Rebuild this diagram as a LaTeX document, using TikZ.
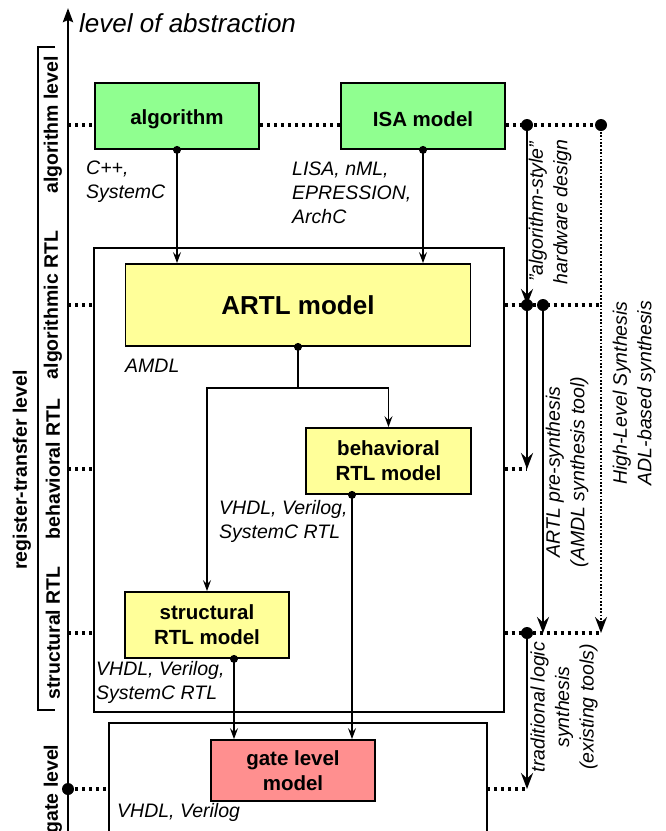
\documentclass[tikz,border=0pt]{standalone}
\usepackage{fontspec}
\setmainfont{Liberation Sans}
\usetikzlibrary{arrows.meta}
\definecolor{boxgreen}{RGB}{144,255,144}
\definecolor{boxyellow}{RGB}{255,255,153}
\definecolor{boxred}{RGB}{255,143,143}
\begin{document}
\begin{tikzpicture}[x=1pt,y=-1pt,
 model/.style={draw,line width=1.8pt,inner sep=0pt,align=center,font=\bfseries\fontsize{20.5}{25}\selectfont},
 encl/.style={draw,line width=1.6pt,inner sep=0pt,anchor=north west},
 lang/.style={inner sep=0pt,anchor=west,align=left,font=\itshape\fontsize{19.5}{24}\selectfont},
 lvl/.style={inner sep=0pt,rotate=90,font=\bfseries\fontsize{19.5}{24}\selectfont},
 side/.style={inner sep=0pt,rotate=90,align=center,font=\itshape\fontsize{19.5}{24.5}\selectfont},
 flow/.style={line width=1.6pt,-{Stealth[length=11pt,width=8pt,inset=4pt]}},
 syn/.style={line width=2.8pt,-{Stealth[length=16pt,width=12pt,inset=5.5pt]}},
 lvldot/.style={line width=3.2pt,dash pattern=on 3.2pt off 3.8pt},
 thindot/.style={line width=1.8pt,dash pattern=on 1.8pt off 1.6pt},
 smalldot/.style={fill,circle,inner sep=0pt,minimum size=8pt},
 bigdot/.style={fill,circle,inner sep=0pt,minimum size=12pt},
 ]
\useasboundingbox (0,0) rectangle (665,831);

% enclosures
\node[encl,minimum width=410pt,minimum height=464pt] (big) at (93,247) {};
\coordinate (ge1) at (109,835);
\coordinate (ge2) at (109,723);
\coordinate (ge3) at (487,723);
\coordinate (ge4) at (487,835);
\draw[line width=1.6pt] (ge1) -- (ge2) -- (ge3) -- (ge4);

% level coordinates
\coordinate (axA) at (68,125);
\coordinate (axR) at (68,305);
\coordinate (axB) at (68,469);
\coordinate (axS) at (68,633);
\coordinate (axG) at (68,789);
\coordinate (axBot) at (68,831);
\coordinate (axTop) at (68,8);

\coordinate (sA) at (527,125);
\coordinate (rA) at (601,125);
\coordinate (sR) at (527,305);
\coordinate (pR) at (543,305);
\coordinate (rR) at (601,305);
\coordinate (sB) at (527,469);
\coordinate (sS) at (527,633);
\coordinate (pS) at (543,633);
\coordinate (rS) at (601,633);
\coordinate (sG) at (527,789);

% model boxes
\node[model,fill=boxgreen,minimum width=164pt,minimum height=66pt] (alg) at (177,116) {\raisebox{-3pt}[\height][\depth]{algorithm}};
\node[model,fill=boxgreen,minimum width=164pt,minimum height=66pt] (isa) at (423,116) {\raisebox{-3pt}[\height][\depth]{ISA model}};
\node[model,fill=boxyellow,minimum width=345pt,minimum height=82pt,font=\bfseries\fontsize{26}{30}\selectfont] (artl) at (298,305) {ARTL model};
\node[model,fill=boxyellow,minimum width=165pt,minimum height=66pt] (beh) at (388.5,461) {behavioral\\RTL model};
\node[model,fill=boxyellow,minimum width=164pt,minimum height=66pt] (struct) at (207,625) {structural\\RTL model};
\node[model,fill=boxred,minimum width=164pt,minimum height=61pt] (gate) at (293,770.5) {gate level\\model};

% dotted level lines
\draw[lvldot] (axA) -- (alg.west |- axA);
\draw[lvldot] (alg.east |- axA) -- (isa.west |- axA);
\draw[lvldot] (isa.east |- axA) -- (rA);
\draw[lvldot] (axR) -- (axR -| big.west);
\draw[lvldot] (axR -| big.east) -- (rR);
\draw[lvldot] (axB) -- (axB -| big.west);
\draw[lvldot] (axB -| big.east) -- (sB);
\draw[lvldot] (axS) -- (axS -| big.west);
\draw[lvldot] (axS -| big.east) -- (rS);
\draw[lvldot] (axG) -- (axG -| ge2);
\draw[lvldot] (axG -| ge3) -- (sG);

% main axis
\draw[line width=2.8pt,-{Stealth[length=14pt,width=10pt,inset=2pt]}] (axBot) -- (axTop);
\node[bigdot] (dG) at (axG) {};
\node[anchor=west,inner sep=0pt,font=\itshape\fontsize{26}{30}\selectfont] (loa) at (79,23) {level of abstraction};

% bracket
\coordinate (br1) at (55,47);
\coordinate (br2) at (38,47);
\coordinate (br3) at (38,710);
\coordinate (br4) at (55,710);
\draw[line width=1.6pt] (br1) -- (br2) -- (br3) -- (br4);
\node[lvl] (rtl) at (22,470) {register-transfer level};
\node[lvl] (l1) at (53,125) {algorithm level};
\node[lvl] (l2) at (53,305) {algorithmic RTL};
\node[lvl] (l3) at (53,469) {behavioral RTL};
\node[lvl] (l4) at (53,633) {structural RTL};
\node[lvl] (l5) at (53,789) {gate level};

% inner flow
\node[smalldot] (dAlg) at (alg.south) {};
\node[smalldot] (dIsa) at (isa.south) {};
\node[smalldot] (dArtl) at (artl.south) {};
\draw[flow] (alg.south) -- (alg.south |- artl.north);
\draw[flow] (isa.south) -- (isa.south |- artl.north);
\path (artl.south) ++(0,41) coordinate (split);
\draw[line width=1.6pt] (artl.south) -- (split);
\draw[flow] (split) -| (struct.north);
\draw[flow] (split) -| (beh.north);
\coordinate (bo) at ([xshift=-36.5pt]beh.south);
\coordinate (so) at ([xshift=27pt]struct.south);
\node[smalldot] (dBeh) at (bo) {};
\node[smalldot] (dStr) at (so) {};
\draw[flow] (bo) -- (bo |- gate.north);
\draw[flow] (so) -- (so |- gate.north);

% language labels
\node[lang] (cpp) at (86,181.5) {C++,\\SystemC};
\node[lang] (lisa) at (292,193) {LISA, nML,\\EPRESSION,\\ArchC};
\node[lang] (amdl) at (125,366) {AMDL};
\node[lang] (vb) at (219,521.5) {VHDL, Verilog,\\SystemC RTL};
\node[lang] (vs) at (96,682.5) {VHDL, Verilog,\\SystemC RTL};
\node[lang] (vg) at (117,812) {VHDL, Verilog};

% synthesis arrows
\draw[syn] (sA) -- (sR);
\draw[syn] (sR) -- (sB);
\draw[syn] (pR) -- (pS);
\draw[thindot,-{Stealth[length=16pt,width=12pt,inset=5.5pt]}] (rA) -- (rS);
\draw[syn] (sS) -- (sG);
\node[bigdot] (dsA) at (sA) {};
\node[bigdot] (drA) at (rA) {};
\node[bigdot] (dsR) at (sR) {};
\node[bigdot] (dpR) at (pR) {};
\node[bigdot] (dsS) at (sS) {};

\node[side] (t1) at (550,212) {"algorithm-style"\\hardware design};
\node[side] (t2) at (567,472) {ARTL pre-synthesis\\(AMDL synthesis tool)};
\node[side] (t3) at (634,393) {High-Level Synthesis\\ADL-based synthesis};
\node[side] (t4) at (564,707) {traditional logic\\synthesis\\(existing tools)};
\end{tikzpicture}
\end{document}
